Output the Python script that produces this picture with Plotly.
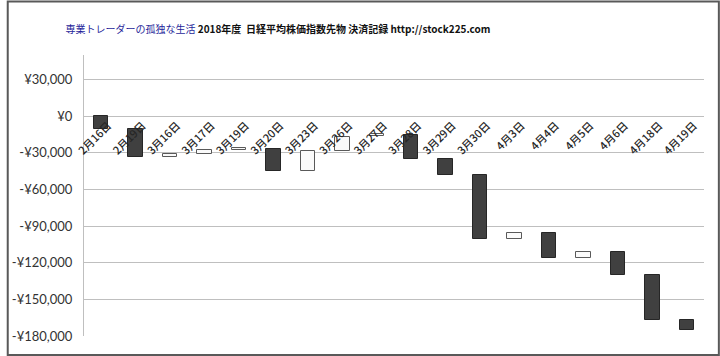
import plotly.graph_objects as go

dates = ["2月16日", "2月19日", "3月16日", "3月17日", "3月19日", "3月20日", "3月23日", "3月26日",
         "3月27日", "3月28日", "3月29日", "3月30日", "4月3日", "4月4日", "4月5日", "4月6日",
         "4月18日", "4月19日"]
opens = [0, -10600, -33500, -31000, -27800, -26700, -44700, -28900, -16700, -15500, -35100,
         -48000, -100300, -95400, -116400, -110900, -130000, -167300]
closes = [-10600, -33800, -31000, -27500, -26200, -44700, -28400, -16900, -14700, -35100, -48000,
          -100300, -95400, -116400, -110900, -130000, -167100, -175200]
ytick_vals = [30000, 0, -30000, -60000, -90000, -120000, -150000, -180000]
ytick_text = ["¥30,000", "¥0", "-¥30,000", "-¥60,000", "-¥90,000", "-¥120,000", "-¥150,000", "-¥180,000"]

Y_MIN, Y_MAX = -180000, 50000

fills = ["#404040" if c < o else "#fafafa" for o, c in zip(opens, closes)]
edges = ["#262626" if c < o else "#595959" for o, c in zip(opens, closes)]

fig = go.Figure()
fig.add_trace(go.Bar(
    x=dates,
    base=opens,
    y=[c - o for o, c in zip(opens, closes)],
    marker=dict(color=fills, line=dict(color=edges, width=1)),
    width=0.42,
    hoverinfo="skip",
))

L, R, T, B = 78, 16, 54.5, 20
W, H = 720, 356
pw, ph = W - L - R, H - T - B

fig.add_shape(type="rect", xref="paper", yref="paper",
              x0=(1 - L) / pw, x1=(W - 1 - L) / pw,
              y0=-(B - 1) / ph, y1=(H - B - 1) / ph,
              line=dict(color="#595959", width=2), fillcolor="rgba(0,0,0,0)", layer="above")

title_text = ('<span style="color:#1f1f9a">専業トレーダーの孤独な生活</span>'
              '<span style="color:#111111"> <b>2018年度  日経平均株価指数先物 決済記録 http://stock225.com</b></span>')

fig.update_layout(
    width=W, height=H,
    margin=dict(l=L, r=R, t=T, b=B, pad=0),
    paper_bgcolor="white", plot_bgcolor="white",
    showlegend=False,
    title=dict(text=title_text, x=278 / W, xanchor="center", xref="container",
               y=1 - 29 / H, yanchor="middle", yref="container",
               font=dict(family="Noto Sans CJK JP", size=10)),
    xaxis=dict(type="category", anchor="free", position=(0 - Y_MIN) / (Y_MAX - Y_MIN),
               showgrid=False, showline=False, zeroline=False, ticks="",
               tickangle=-45,
               tickfont=dict(family="Noto Sans CJK JP", size=11, color="#262626", weight=500),
               range=[-0.5, len(dates) - 0.5]),
    yaxis=dict(range=[Y_MIN, Y_MAX], tickvals=ytick_vals, ticktext=ytick_text,
               showgrid=True, gridcolor="#bfbfbf", gridwidth=1, zeroline=False,
               showline=True, linecolor="#bfbfbf", linewidth=1, ticks="",
               tickfont=dict(family="Lato", size=13, color="#333333")),
    bargap=0,
)
fig.update_yaxes(ticklabelstandoff=8)
fig.update_xaxes(ticklabelshift=7)

fig.write_html("out.html")
